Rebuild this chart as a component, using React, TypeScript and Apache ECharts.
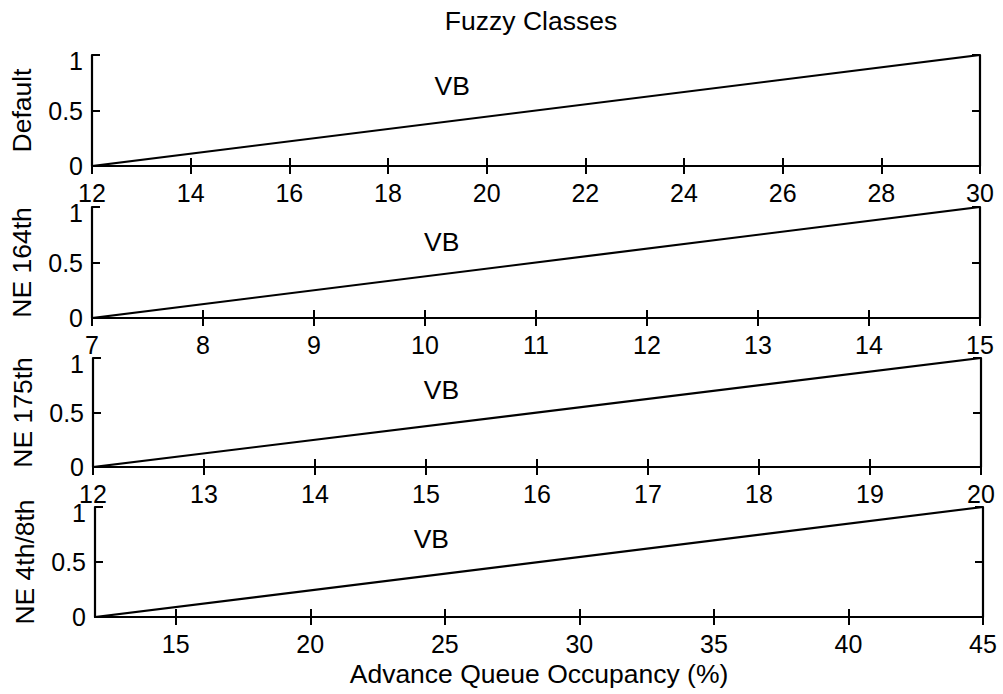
import React, { useEffect, useRef } from "react";
import * as echarts from "echarts";

// ---- Data ----
const panelNames = ["Default", "NE 164th", "NE 175th", "NE 4th/8th"];
const xMins = [12, 7, 12, 12];
const xMaxs = [30, 15, 20, 45];
const xTicksDefault = [12, 14, 16, 18, 20, 22, 24, 26, 28, 30];
const xTicksNE164 = [7, 8, 9, 10, 11, 12, 13, 14, 15];
const xTicksNE175 = [12, 13, 14, 15, 16, 17, 18, 19, 20];
const xTicksNE48 = [15, 20, 25, 30, 35, 40, 45];
const xTicks = [xTicksDefault, xTicksNE164, xTicksNE175, xTicksNE48];
// VB membership line: from (start, 0) to (end, 1)
const vbXDefault = [12, 30];
const vbXNE164 = [7, 15];
const vbXNE175 = [12, 20];
const vbXNE48 = [12, 45];
const vbXs = [vbXDefault, vbXNE164, vbXNE175, vbXNE48];
const vbMembership = [0, 1];
const yTicks = [0, 0.5, 1];
// VB label anchor (data coords)
const vbLabelX = [19.3, 10.15, 15.14, 24.5];
const vbLabelY = [0.72, 0.685, 0.71, 0.71];
const titleText = "Fuzzy Classes";
const xAxisName = "Advance Queue Occupancy (%)";

// ---- Layout ----
const gridBoxes = [
  { left: 91, right: 23, top: 55, height: 111 },
  { left: 92, right: 23, top: 207, height: 111 },
  { left: 93, right: 22, top: 358, height: 109 },
  { left: 95, right: 20, top: 507, height: 110 },
];

const FONT = "'Liberation Sans', Arial, Helvetica, sans-serif";
const FS = 25;
const FS_NAME = 26.5;

export default function App() {
  const ref = useRef<HTMLDivElement>(null);
  useEffect(() => {
    if (!ref.current) return;
    const chart = echarts.init(ref.current, undefined, { renderer: "svg" });
    const grid: any[] = [];
    const xAxis: any[] = [];
    const yAxis: any[] = [];
    const series: any[] = [];
    const axisLine = { show: true, lineStyle: { color: "#000", width: 2.2 } };
    const tick = { show: true, inside: true, length: 8, lineStyle: { color: "#000", width: 2 } };
    panelNames.forEach((name, i) => {
      grid.push({ ...gridBoxes[i], containLabel: false });
      const baseX = {
        type: "value",
        gridIndex: i,
        min: xMins[i],
        max: xMaxs[i],
        axisLine,
        splitLine: { show: false },
      };
      const isLast = i === panelNames.length - 1;
      xAxis.push({
        ...baseX,
        position: "bottom",
        axisTick: { ...tick, customValues: xTicks[i] },
        axisLabel: {
          show: true,
          customValues: xTicks[i],
          color: "#000",
          fontSize: FS,
          fontFamily: FONT,
          margin: 14,
          formatter: (v: number) => String(v),
        },
        name: isLast ? xAxisName : "",
        nameLocation: "middle",
        nameGap: 43,
        nameTextStyle: { color: "#000", fontSize: FS_NAME, fontFamily: FONT },
      });
      xAxis.push({
        ...baseX,
        position: "top",
        axisTick: { ...tick, customValues: xTicks[i] },
        axisLabel: { show: false },
      });
      const baseY = {
        type: "value",
        gridIndex: i,
        min: 0,
        max: 1,
        interval: 0.5,
        axisLine,
        splitLine: { show: false },
      };
      yAxis.push({
        ...baseY,
        position: "left",
        axisTick: { ...tick, customValues: yTicks },
        axisLabel: {
          show: true,
          color: "#000",
          fontSize: FS,
          fontFamily: FONT,
          margin: 9,
          customValues: yTicks,
          formatter: (v: number) => (v === 1 ? "{one|1}" : String(v)),
          rich: {
            one: { fontSize: FS, fontFamily: FONT, color: "#000", padding: [12, 0, 0, 0] },
          },
        },
        name,
        nameLocation: "middle",
        nameGap: 57,
        nameTextStyle: { color: "#000", fontSize: FS_NAME, fontFamily: FONT },
      });
      yAxis.push({
        ...baseY,
        position: "right",
        axisTick: { ...tick, customValues: yTicks },
        axisLabel: { show: false },
      });
      series.push({
        type: "line",
        xAxisIndex: i * 2,
        yAxisIndex: i * 2,
        data: vbXs[i].map((x, k) => [x, vbMembership[k]]),
        showSymbol: false,
        symbol: "none",
        lineStyle: { color: "#000", width: 2.2 },
        silent: true,
      });
      series.push({
        type: "scatter",
        xAxisIndex: i * 2,
        yAxisIndex: i * 2,
        data: [[vbLabelX[i], vbLabelY[i]]],
        symbolSize: 0,
        itemStyle: { color: "#000", opacity: 1 },
        label: {
          show: true,
          position: "inside",
          formatter: "VB",
          color: "#000",
          opacity: 1,
          textBorderWidth: 0,
          fontSize: FS_NAME,
          fontFamily: FONT,
        },
        silent: true,
      });
    });
    chart.setOption({
      animation: false,
      backgroundColor: "#fff",
      grid,
      xAxis,
      yAxis,
      series,
      graphic: [
        {
          type: "text",
          x: 531,
          y: 21,
          style: {
            text: titleText,
            fill: "#000",
            fontSize: FS_NAME,
            fontFamily: FONT,
            textAlign: "center",
            textVerticalAlign: "middle",
          },
        },
      ],
    });
    return () => chart.dispose();
  }, []);
  return (
    <div
      ref={ref}
      style={{ position: "fixed", left: 0, top: 0, width: 1003, height: 694, background: "#fff" }}
    />
  );
}
